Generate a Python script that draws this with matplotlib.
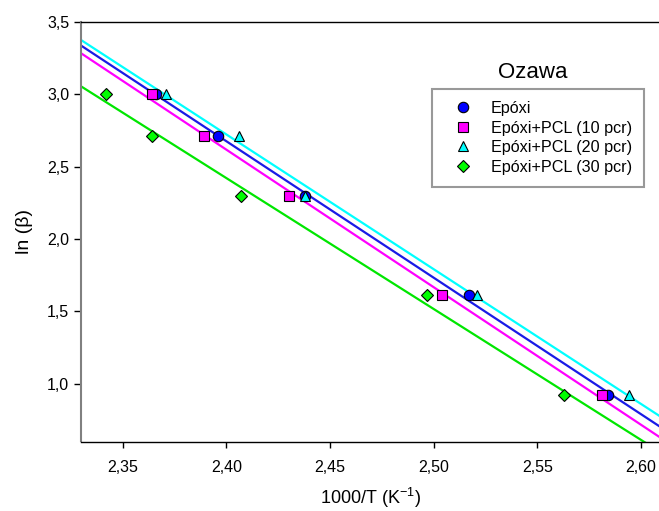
import numpy as np
import matplotlib
matplotlib.use('Agg')
import matplotlib.pyplot as plt
from matplotlib.ticker import FuncFormatter

plt.rcParams['font.family'] = ['Liberation Sans', 'DejaVu Sans']
plt.rcParams['mathtext.fontset'] = 'custom'
plt.rcParams['mathtext.rm'] = 'Liberation Sans'

# ln(beta) for each heating rate
ln_beta = [3.00, 2.71, 2.30, 1.61, 0.92]

# 1000/T
x_epoxi = [2.366, 2.396, 2.438, 2.517, 2.584]
x_pcl10 = [2.364, 2.389, 2.430, 2.504, 2.581]
x_pcl20 = [2.371, 2.406, 2.438, 2.521, 2.594]
x_pcl30 = [2.342, 2.364, 2.407, 2.497, 2.563]

labels = ['Epóxi', 'Epóxi+PCL (10 pcr)', 'Epóxi+PCL (20 pcr)', 'Epóxi+PCL (30 pcr)']
series = [x_epoxi, x_pcl10, x_pcl20, x_pcl30]
markers = ['o', 's', '^', 'D']
fill = ['#0000ff', '#ff00ff', '#00ffff', '#00ff00']
line_col = ['#1a1ae6', '#ff00ff', '#00ffff', '#00e600']
msize = [7.5, 6.8, 7.5, 6.2]

fig = plt.figure(figsize=(6.59, 5.11), dpi=100)
ax = fig.add_axes([81/659, 1 - 441.5/511, 1 - 81/659, (441.5 - 22)/511])

xlim = (2.3299, 2.6087)
xx = np.array(xlim)
for xs, c in zip(series, line_col):
    k, b = np.polyfit(xs, ln_beta, 1)
    ax.plot(xx, k*xx + b, color=c, lw=1.6, zorder=2)

for xs, m, f, ms, lab in zip(series, markers, fill, msize, labels):
    ax.plot(xs, ln_beta, ls='none', marker=m, ms=ms, mfc=f, mec='black', mew=0.8,
            label=lab, zorder=3)

ax.set_xlim(*xlim)
ax.set_ylim(0.6, 3.5)
ax.set_xticks([2.35, 2.40, 2.45, 2.50, 2.55, 2.60])
ax.set_yticks([1.0, 1.5, 2.0, 2.5, 3.0, 3.5])
ax.xaxis.set_major_formatter(FuncFormatter(lambda v, p: f'{v:.2f}'.replace('.', ',')))
ax.yaxis.set_major_formatter(FuncFormatter(lambda v, p: f'{v:.1f}'.replace('.', ',')))
ax.tick_params(axis='x', direction='out', length=4.5, width=1, pad=8.5, labelsize=11.5)
ax.tick_params(axis='y', direction='out', length=5, width=1, pad=3.5, labelsize=11.5)

ax.spines['right'].set_visible(False)
ax.spines['left'].set_color('#808080')
ax.spines['left'].set_linewidth(1.5)
ax.spines['bottom'].set_linewidth(1)
ax.spines['top'].set_linewidth(1)

ax.set_xlabel('1000/T (K$^{\\mathrm{-1}}$)', fontsize=13, labelpad=8)
ax.set_ylabel('ln (β)', fontsize=14, labelpad=10)

leg = ax.legend(loc='upper left', bbox_to_anchor=(432/659, 1 - 89/511),
                bbox_transform=fig.transFigure, borderaxespad=0, fontsize=11.6,
                frameon=True, fancybox=False, edgecolor='#808080',
                handlelength=2.3, handletextpad=0.6, borderpad=0.75,
                labelspacing=0.28, markerscale=1.0)
leg.get_frame().set_linewidth(1.5)
fig.text(533/659, 1 - 72/511, 'Ozawa', ha='center', va='center', fontsize=16)

fig.savefig('out.png', dpi=100)
